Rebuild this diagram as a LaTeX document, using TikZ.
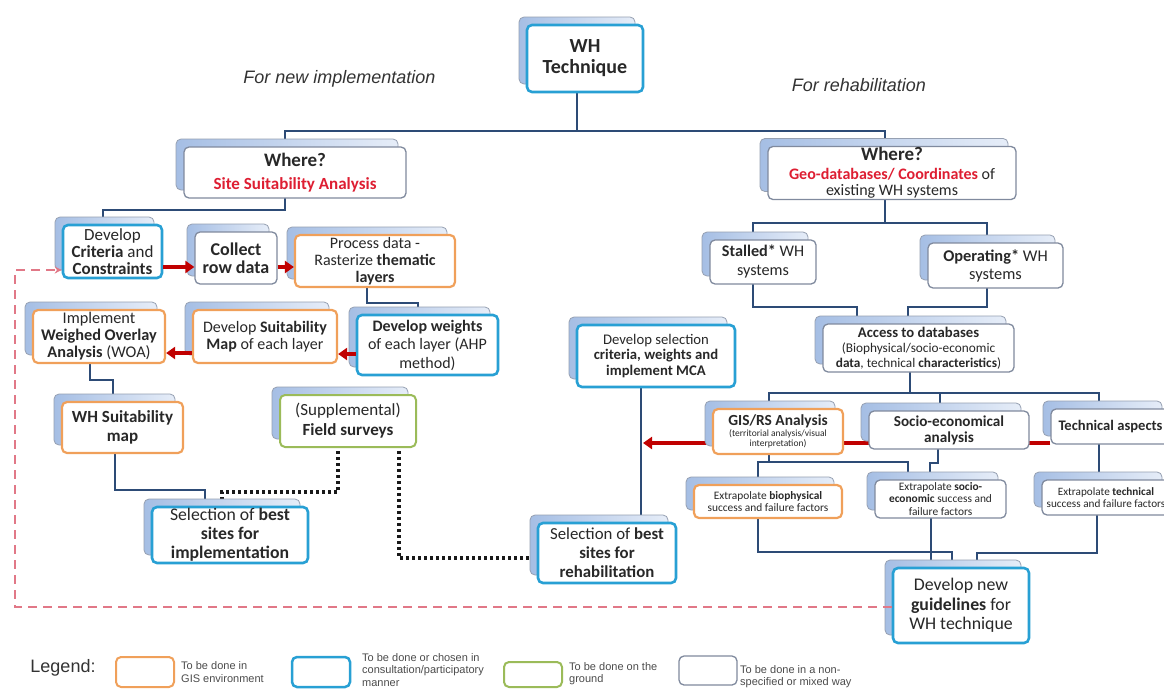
\documentclass[tikz,border=0pt]{standalone}
\usepackage{fontspec}
\setmainfont{Carlito}
\newfontfamily\arialf{Liberation Sans}
\usetikzlibrary{shadows,arrows.meta}
\definecolor{bluebd}{RGB}{40,160,212}
\definecolor{orangebd}{RGB}{240,160,90}
\definecolor{greenbd}{RGB}{155,187,89}
\definecolor{graybd}{RGB}{128,138,158}
\definecolor{connc}{RGB}{45,75,118}
\definecolor{redarrc}{RGB}{192,0,0}
\definecolor{redt}{RGB}{222,30,50}
\definecolor{shL}{RGB}{165,190,228}
\definecolor{shR}{RGB}{230,237,248}
\definecolor{shD}{RGB}{150,160,178}
\definecolor{pinkd}{RGB}{225,120,135}
\definecolor{txt}{RGB}{40,40,40}
\pgfdeclarelayer{bg}
\pgfsetlayers{bg,main}
\tikzset{
  fs/.style 2 args={font=\fontsize{#1}{#2}\selectfont},
  base/.style={rounded corners=5pt, fill=white, align=center, inner sep=1pt, text=txt,
    general shadow={shadow xshift=-8pt, shadow yshift=8pt, left color=shL, right color=shR, draw=shD, line width=0.8pt}},
  bluebox/.style={base, draw=bluebd, line width=2.6pt},
  orangebox/.style={base, draw=orangebd, line width=2.2pt},
  greenbox/.style={base, draw=greenbd, line width=2pt},
  graybox/.style={base, draw=graybd, line width=1.3pt},
  sz/.style 2 args={minimum width=#1pt, minimum height=#2pt},
  conn/.style={draw=connc, line width=2.9pt},
  redarr/.style={draw=redarrc, line width=3.5pt, -{Triangle[length=9pt,width=12pt]}},
  dotc/.style={draw=black!90, line width=3.2pt, dash pattern=on 3pt off 3pt},
  pinkdash/.style={draw=pinkd, line width=1.4pt, dash pattern=on 9pt off 6pt},
  legbox/.style={rounded corners=5pt, fill=white, line width=2pt},
  legtxt/.style={font=\arialf\fontsize{11}{12.5}\selectfont, text=black!70, align=left, anchor=west, inner sep=0pt},
  italab/.style={font=\arialf\itshape\fontsize{18}{20}\selectfont, text=black!80, inner sep=0pt},
}
\begin{document}
\begin{tikzpicture}[x=1pt,y=-1pt]
\useasboundingbox (0,0) rectangle (1164,688);
% boxes
\node[bluebox, sz={116}{67}, fs={20}{21}] (wh) at (585,58.5) {\textbf{WH}\\\textbf{Technique}};
\node[graybox, sz={222}{51}, fs={17}{23}] (where1) at (295,172.5) {{\fontsize{19}{20}\selectfont\textbf{Where?}}\\\textcolor{redt}{\textbf{Site Suitability Analysis}}};
\node[graybox, sz={248}{52}, fs={16}{16.5}] (where2) at (892,173) {{\fontsize{19}{20}\selectfont\textbf{Where?}}\\[2pt]\textcolor{redt}{\textbf{Geo-databases/ Coordinates}} of\\existing WH systems};
\node[bluebox, sz={99}{53}, fs={17}{17}] (crit) at (112.5,251.5) {Develop\\\textbf{Criteria} and\\\textbf{Constraints}};
\node[graybox, sz={82}{52}, fs={18}{17.5}] (collect) at (236,258) {\textbf{Collect}\\\textbf{row data}};
\node[orangebox, sz={160}{52}, fs={16}{17}] (process) at (375,261) {Process data -\\Rasterize \textbf{thematic}\\\textbf{layers}};
\node[bluebox, sz={141}{60}, fs={16}{18.5}] (weights) at (427.5,345) {\textbf{Develop weights}\\of each layer (AHP\\method)};
\node[orangebox, sz={144}{53}, fs={16}{17}] (suit) at (265,336.5) {Develop \textbf{Suitability}\\\textbf{Map} of each layer};
\node[orangebox, sz={132}{53}, fs={16.3}{17}] (woa) at (99,336.5) {Implement\\\textbf{Weighed Overlay}\\\textbf{Analysis} (WOA)};
\node[orangebox, sz={121}{51}, fs={17}{19}] (whmap) at (122.5,427.5) {\textbf{WH Suitability}\\\textbf{map}};
\node[greenbox, sz={136}{52}, fs={17}{20}] (field) at (348,421) {(Supplemental)\\\textbf{Field surveys}};
\node[bluebox, sz={156}{56}, fs={17.7}{19}] (selimp) at (230,535) {Selection of \textbf{best}\\\textbf{sites for}\\\textbf{implementation}};
\node[bluebox, sz={138}{60}, fs={16.8}{19}] (selreh) at (607,553) {Selection of \textbf{best}\\\textbf{sites for}\\\textbf{rehabilitation}};
\node[bluebox, sz={158}{62}, fs={14.7}{15.5}] (devsel) at (656,356) {Develop selection\\\textbf{criteria, weights and}\\\textbf{implement MCA}};
\node[graybox, sz={106}{44}, fs={16.2}{19}] (stalled) at (763,262) {\textbf{Stalled*} WH\\systems};
\node[graybox, sz={135}{45}, fs={16.4}{18}] (oper) at (995.5,265.5) {\textbf{Operating*} WH\\systems};
\node[graybox, sz={191}{48}, fs={13.3}{15}] (access) at (918.5,348) {{\fontsize{14.7}{15}\selectfont\textbf{Access to databases}}\\(Biophysical/socio-economic\\\textbf{data}, technical \textbf{characteristics})};
\node[orangebox, sz={130}{45}, fs={9.5}{9.5}] (gis) at (778,431.5) {{\fontsize{15.4}{15}\selectfont\textbf{GIS/RS Analysis}}\\[1.5pt](territorial analysis/visual\\interpretation)};
\node[graybox, sz={160}{38}, fs={15.2}{16}] (socio) at (949,430) {\textbf{Socio-economical}\\\textbf{analysis}};
\node[graybox, sz={119}{35}, fs={14.6}{15}] (tech) at (1110.5,426.5) {\textbf{Technical aspects}};
\node[orangebox, sz={148}{33}, fs={11.4}{11.5}] (bio) at (768,501.5) {Extrapolate \textbf{biophysical}\\success and failure factors};
\node[graybox, sz={131}{38}, fs={11.4}{12.3}] (esocio) at (940.5,499) {Extrapolate \textbf{socio-}\\\textbf{economic} success and\\failure factors};
\node[graybox, sz={128}{35}, fs={11.2}{12}] (etech) at (1106,497.5) {Extrapolate \textbf{technical}\\success and failure factors};
\node[bluebox, sz={136}{75}, fs={17.8}{19.5}] (devnew) at (961,605.5) {Develop new\\\textbf{guidelines} for\\WH technique};
% labels
\node[italab] (lnew) at (339.5,79) {For new implementation};
\node[italab] (lreh) at (859,85) {For rehabilitation};
% legend
\node[font=\arialf\fontsize{18}{20}\selectfont, text=black!80, inner sep=0pt] (legend) at (63,668) {Legend:};
\node[legbox, draw=orangebd, sz={58}{30}] (lg1) at (145,672) {};
\node[legtxt] (lt1) at (181,672) {To be done in\\GIS environment};
\node[legbox, draw=bluebd, line width=2.5pt, sz={58}{30}] (lg2) at (321,672) {};
\node[legtxt] (lt2) at (362,670) {To be done or chosen in\\consultation/participatory\\manner};
\node[legbox, draw=greenbd, sz={58}{25}] (lg3) at (533,674.5) {};
\node[legtxt] (lt3) at (569,673.5) {To be done on the\\ground};
\node[legbox, draw=graybd, line width=1.3pt, sz={58}{29}] (lg4) at (708,670.5) {};
\node[legtxt] (lt4) at (740,676.5) {To be done in a non-\\specified or mixed way};
% red arrows
\draw[redarr] ([yshift=-15.5pt]crit.east) -- ([yshift=-9pt]collect.west);
\draw[redarr] ([yshift=-9pt]collect.east) -- ([yshift=-6pt]process.west);
\draw[redarr] ([yshift=-9pt]weights.west) -- ([yshift=-17.5pt]suit.east);
\draw[redarr] ([yshift=-16.5pt]suit.west) -- ([yshift=-16.5pt]woa.east);
% pink dashed feedback
\draw[pinkdash, -{Stealth[length=7pt,width=7pt]}] ([yshift=-1.5pt]devnew.west) -| (15,270) -- ([yshift=-18.5pt]crit.west);
\coordinate (mcaj) at (643,443);
\begin{pgfonlayer}{bg}
\fill[white] (0,0) rectangle (1164,688);
\draw[conn] ([xshift=-8pt]wh.center) |- (285,131) -| ([xshift=-10pt]where1.center);
\draw[conn] ([xshift=-8pt]wh.center) |- (885,131) -| ([xshift=-7pt]where2.center);
\draw[conn] ([xshift=-10pt]where1.center) |- (103,210) -| ([xshift=-9.5pt]crit.center);
\draw[conn] ([xshift=-8pt]process.center) |- (418,303) -| ([xshift=-9.5pt]weights.center);
\draw[conn] ([xshift=-9pt]woa.center) |- (113,380) -| ([xshift=-9.5pt]whmap.center);
\draw[conn] ([xshift=-7.5pt]whmap.center) |- (205,490) -| ([xshift=-25pt]selimp.center);
\draw[conn] ([xshift=-7pt]where2.center) |- (753,223) -| ([xshift=-10pt]stalled.center);
\draw[conn] ([xshift=-7pt]where2.center) |- (987,223) -| ([xshift=-8.5pt]oper.center);
\draw[conn] ([xshift=-10pt]stalled.center) |- (857,307) -| ([xshift=-61.5pt]access.center);
\draw[conn] ([xshift=-8.5pt]oper.center) |- (908,307) -| ([xshift=-10.5pt]access.center);
\draw[conn] ([xshift=-8.5pt]access.center) |- (769,393) -| ([xshift=-9pt]gis.center);
\draw[conn] ([xshift=-8.5pt]access.center) |- (940,393) -| ([xshift=-9pt]socio.center);
\draw[conn] ([xshift=-8.5pt]access.center) |- (1099,393) -| ([xshift=-11.5pt]tech.center);
\draw[conn] ([xshift=-9pt]gis.center) |- (758,462) -| ([xshift=-10pt]bio.center);
\draw[conn] ([xshift=-9pt]gis.center) |- (908,462) -| ([xshift=-32.5pt]esocio.center);
\draw[conn] ([xshift=-11pt]socio.center) |- (930,463) -| ([xshift=-10.5pt]esocio.center);
\draw[conn] ([xshift=-11.5pt]tech.center) -- ([xshift=-7pt]etech.center);
\draw[conn] ([xshift=-10pt]bio.center) |- (952,552) -| ([xshift=-9pt]devnew.center);
\draw[conn] ([xshift=-9.5pt]esocio.center) -- ([xshift=-30pt]devnew.center);
\draw[conn] ([xshift=-9pt]etech.center) |- (977,553) -| ([xshift=16pt]devnew.center);
\draw[conn] ([xshift=-15pt]devsel.center) -- ([xshift=34pt]selreh.center);
\draw[redarr] ([yshift=-16.5pt]tech.west) -- (mcaj);
\draw[dotc] ([xshift=-10pt]field.center) |- (222,492) -| ([xshift=-8pt]selimp.center);
\draw[dotc] ([xshift=51pt]field.center) |- ([yshift=-5pt]selreh.center);
\end{pgfonlayer}
\end{tikzpicture}
\end{document}
